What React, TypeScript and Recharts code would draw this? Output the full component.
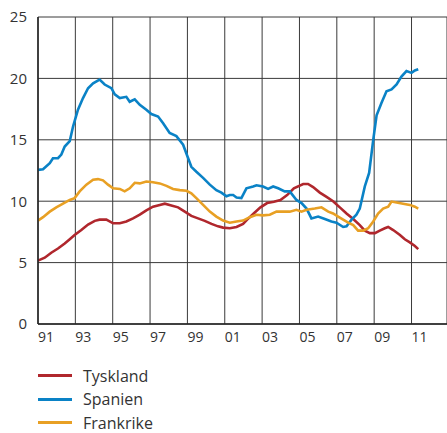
import React from 'react';
import { CartesianGrid, Line, LineChart, XAxis, YAxis } from 'recharts';

// year (decimal) / value pairs
const tyskland = [
  [1991.0, 5.16], [1991.36, 5.4], [1991.71, 5.8], [1992.07, 6.15], [1992.43, 6.55],
  [1992.7, 6.9], [1992.96, 7.25], [1993.32, 7.65], [1993.68, 8.1], [1994.04, 8.4],
  [1994.3, 8.5], [1994.66, 8.5], [1995.02, 8.2], [1995.38, 8.2], [1995.73, 8.35],
  [1996.09, 8.6], [1996.45, 8.9], [1996.8, 9.25], [1997.16, 9.55], [1997.52, 9.7],
  [1997.79, 9.8], [1998.14, 9.65], [1998.5, 9.5], [1998.86, 9.15], [1999.21, 8.8],
  [1999.57, 8.6], [1999.93, 8.4], [2000.29, 8.15], [2000.64, 7.95], [2000.91, 7.85],
  [2001.27, 7.8], [2001.63, 7.9], [2001.98, 8.15], [2002.2, 8.5], [2002.55, 9.0],
  [2002.91, 9.5], [2003.27, 9.85], [2003.63, 9.95], [2003.98, 10.1], [2004.34, 10.5],
  [2004.7, 11.05], [2005.2, 11.4], [2005.46, 11.4], [2005.73, 11.15], [2006.09, 10.7],
  [2006.45, 10.35], [2006.8, 10.0], [2007.16, 9.5], [2007.52, 9.0], [2007.88, 8.55],
  [2008.23, 8.05], [2008.5, 7.6], [2008.77, 7.4], [2009.04, 7.4], [2009.3, 7.6],
  [2009.57, 7.8], [2009.75, 7.9], [2010.02, 7.65], [2010.38, 7.25], [2010.64, 6.9],
  [2010.91, 6.65], [2011.18, 6.35], [2011.36, 6.1]
];

const spanien = [
  [1991.0, 12.55], [1991.27, 12.6], [1991.63, 13.1], [1991.8, 13.5], [1992.07, 13.5],
  [1992.25, 13.8], [1992.43, 14.45], [1992.7, 14.9], [1992.88, 16.1], [1993.14, 17.45],
  [1993.41, 18.4], [1993.68, 19.2], [1993.95, 19.6], [1994.3, 19.9], [1994.57, 19.5],
  [1994.93, 19.2], [1995.11, 18.7], [1995.38, 18.4], [1995.73, 18.5], [1995.91, 18.1],
  [1996.18, 18.3], [1996.45, 17.85], [1996.8, 17.45], [1997.07, 17.1], [1997.43, 16.9],
  [1997.7, 16.35], [1998.05, 15.55], [1998.41, 15.3], [1998.77, 14.6], [1999.04, 13.5],
  [1999.21, 12.8], [1999.48, 12.4], [1999.84, 11.9], [2000.2, 11.35], [2000.55, 10.9],
  [2000.82, 10.7], [2001.09, 10.4], [2001.27, 10.5], [2001.45, 10.5], [2001.63, 10.3],
  [2001.89, 10.25], [2002.16, 11.05], [2002.52, 11.2], [2002.7, 11.3], [2003.05, 11.2],
  [2003.32, 11.0], [2003.59, 11.2], [2003.86, 11.05], [2004.21, 10.8], [2004.48, 10.8],
  [2004.84, 10.1], [2005.11, 9.85], [2005.38, 9.4], [2005.64, 8.6], [2006.0, 8.75],
  [2006.36, 8.55], [2006.71, 8.35], [2006.98, 8.25], [2007.34, 7.9], [2007.52, 7.95],
  [2007.79, 8.5], [2008.05, 8.9], [2008.23, 9.4], [2008.5, 11.2], [2008.73, 12.3],
  [2008.95, 15.0], [2009.13, 17.0], [2009.39, 18.0], [2009.66, 18.95], [2009.93, 19.1],
  [2010.2, 19.5], [2010.46, 20.15], [2010.73, 20.6], [2011.0, 20.45], [2011.18, 20.65],
  [2011.36, 20.75]
];

const frankrike = [
  [1991.0, 8.42], [1991.27, 8.7], [1991.63, 9.15], [1991.98, 9.5], [1992.34, 9.8],
  [1992.7, 10.1], [1992.96, 10.25], [1993.23, 10.8], [1993.59, 11.35], [1993.95, 11.75],
  [1994.21, 11.8], [1994.48, 11.7], [1994.75, 11.35], [1995.02, 11.05], [1995.38, 11.0],
  [1995.64, 10.8], [1995.91, 11.05], [1996.18, 11.5], [1996.45, 11.45], [1996.8, 11.6],
  [1997.16, 11.55], [1997.52, 11.45], [1997.88, 11.25], [1998.23, 11.0], [1998.59, 10.9],
  [1998.95, 10.85], [1999.21, 10.65], [1999.48, 10.25], [1999.84, 9.7], [2000.2, 9.15],
  [2000.55, 8.75], [2000.91, 8.42], [2001.27, 8.25], [2001.63, 8.35], [2001.98, 8.42],
  [2002.34, 8.7], [2002.7, 8.9], [2003.05, 8.85], [2003.41, 8.9], [2003.77, 9.15],
  [2004.13, 9.15], [2004.48, 9.15], [2004.84, 9.3], [2005.11, 9.15], [2005.38, 9.3],
  [2005.82, 9.4], [2006.18, 9.5], [2006.54, 9.15], [2006.8, 9.0], [2007.07, 8.75],
  [2007.34, 8.5], [2007.61, 8.25], [2007.88, 8.05], [2008.14, 7.6], [2008.41, 7.6],
  [2008.68, 7.8], [2008.95, 8.35], [2009.21, 9.0], [2009.48, 9.4], [2009.75, 9.55],
  [2009.93, 9.97], [2010.2, 9.9], [2010.55, 9.8], [2010.91, 9.7], [2011.18, 9.55],
  [2011.36, 9.4]
];

const xTicks = [1991, 1993, 1995, 1997, 1999, 2001, 2003, 2005, 2007, 2009, 2011];
const yTicks = [0, 5, 10, 15, 20, 25];

const series = [
  { name: 'Tyskland', color: '#B0272D', points: tyskland },
  { name: 'Spanien', color: '#0A82C6', points: spanien },
  { name: 'Frankrike', color: '#E8A024', points: frankrike }
];

const toRows = (pts: number[][]) => pts.map(([t, v]) => ({ t, v }));

const font = '"Open Sans", sans-serif';

const XTick: React.FC<any> = ({ x, y, payload }) => (
  <text x={x} y={y + 10} textAnchor="start" fontSize={14} fill="#333" fontFamily={font}>
    {String(payload.value % 100).padStart(2, '0')}
  </text>
);

const App: React.FC = () => {
  return (
    <div style={{ position: 'absolute', left: 0, top: 0, width: 447, height: 433, background: '#fff' }}>
      <LineChart
        width={447}
        height={360}
        margin={{ top: 17, right: 0, left: 0, bottom: 0 }}
      >
        <CartesianGrid stroke="#3a3a3a" strokeWidth={1} />
        <XAxis
          type="number"
          dataKey="t"
          domain={[1991, 2012.9]}
          ticks={xTicks}
          tick={<XTick />}
          tickLine={false}
          axisLine={{ stroke: '#222', strokeWidth: 1.5 }}
          height={36}
          allowDataOverflow
        />
        <YAxis
          type="number"
          domain={[0, 25]}
          ticks={yTicks}
          width={38}
          tickLine={false}
          axisLine={{ stroke: '#222', strokeWidth: 1.5 }}
          tick={{ fontSize: 15, fill: '#333', fontFamily: font, dx: -3 }}
        />
        {series.map((s) => (
          <Line
            key={s.name}
            data={toRows(s.points)}
            dataKey="v"
            name={s.name}
            type="linear"
            stroke={s.color}
            strokeWidth={2.6}
            dot={false}
            isAnimationActive={false}
          />
        ))}
      </LineChart>
      <div style={{ position: 'absolute', left: 38, top: 364, fontFamily: font, fontSize: 16, lineHeight: '18px', color: '#333' }}>
        {series.map((s) => (
          <div key={s.name} style={{ display: 'flex', alignItems: 'center', height: 23.5 }}>
            <span style={{ display: 'inline-block', width: 34, height: 3, background: s.color, marginRight: 11 }} />
            <span>{s.name}</span>
          </div>
        ))}
      </div>
    </div>
  );
};

export default App;
